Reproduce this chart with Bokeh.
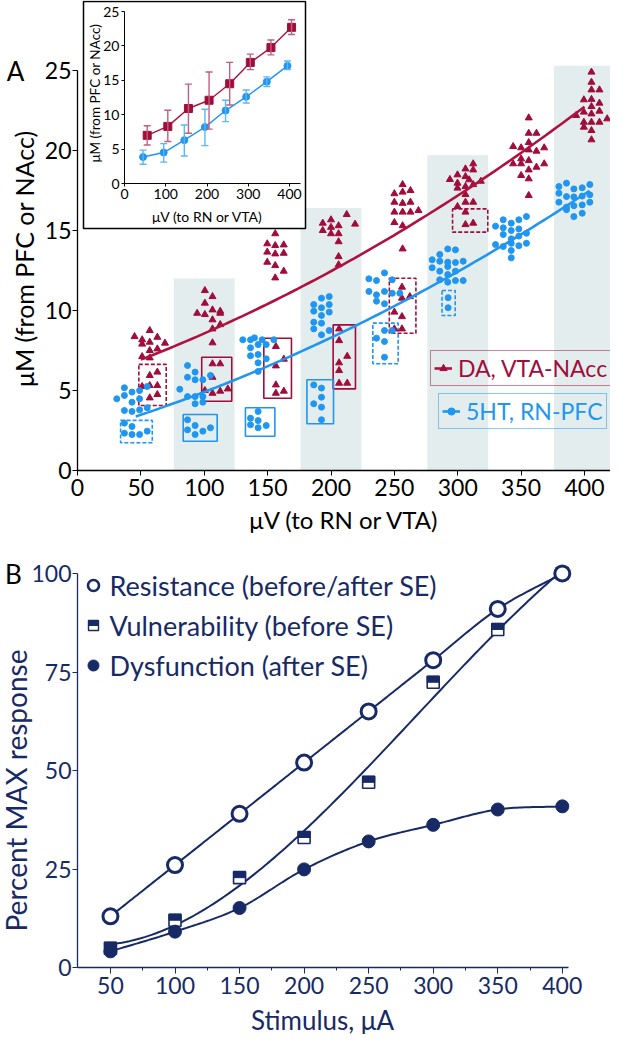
import numpy as np
from bokeh.plotting import figure
from bokeh.models import (Range1d, LinearAxis, FixedTicker, ColumnDataSource, Whisker,
                          TeeHead, Legend, LegendItem)
from bokeh.layouts import column
from bokeh.embed import file_html
from bokeh.resources import INLINE
from bokeh.core.properties import value

# ---------------- Panel A data ----------------
stim_ticks_a = [0, 50, 100, 150, 200, 250, 300, 350, 400]
conc_ticks_a = [0, 5, 10, 15, 20, 25]

band_center = [100, 200, 300, 400]
band_top = [12.0, 16.4, 19.7, 25.3]

da_x = [45, 51, 57, 63, 69, 51, 57, 63, 57, 51, 57,
        57, 63, 51, 57, 63, 57, 63,
        100.5, 106.5, 100.5, 94.4, 100.5, 106.5, 112.6, 112.6, 106.5, 112.6, 106.5, 106.5,
        106.5, 112.6, 106.5, 100.5, 106.5, 112.6, 118.6,
        156, 149.7, 156, 162.7, 149.7, 156, 162.7, 149.7, 156, 162.7, 156,
        156.5, 162.8, 156.5, 156.5, 156.5, 162.8,
        193.5, 200, 212.4, 200, 206, 219, 200, 206, 206, 206, 206, 193.5,
        206.4, 206.4, 212.8, 206.4, 206.4, 206.4, 212.8,
        256.5, 250, 256.5, 262.7, 250, 256.5, 262.7, 250, 256.5, 262.7, 269, 250, 256.5, 256.5,
        256, 256, 262.2, 250, 256, 250, 256,
        293.8, 299.8, 306.1, 312.2, 312.2, 306.1, 309, 299.8, 306.1, 312.2, 318.2, 299.8, 306.1,
        306.1, 312.2, 299.8, 306.1, 306.1, 312.2,
        356, 356, 362.1, 343.7, 350, 356, 356, 362.1, 368.2, 350, 350, 343.7, 356, 362.1, 368.2,
        356, 350, 356, 356,
        405.5, 405.5, 405.5, 411.8, 399.5, 405.5, 411.8, 405.5, 399.5, 405.5, 411.8, 393.4,
        399.5, 405.5, 411.8, 417.9, 399.5, 405.5, 405.5]
da_y = [8.37, 8.17, 8.75, 8.33, 7.96, 7.9, 8.02, 7.6, 7.5, 7.12, 7.04,
        5.94, 6.15, 5.25, 5.31, 5.31, 4.54, 4.75,
        11.25, 10.87, 10.46, 9.83, 9.75, 10.04, 9.96, 9.83, 9.42, 9.12, 8.85, 7.98,
        6.67, 6.67, 5.83, 5.0, 4.83, 4.96, 5.1,
        14.8, 14.17, 14.06, 14.1, 13.65, 13.54, 13.58, 13.02, 12.81, 12.46, 12.04,
        7.75, 6.96, 6.54, 5.35, 4.83, 4.96,
        15.46, 15.67, 16.0, 15.2, 15.3, 15.4, 14.8, 14.8, 14.3, 13.37, 12.86, 15.0,
        8.85, 8.12, 7.14, 6.73, 6.25, 5.46, 5.46,
        17.87, 17.3, 17.4, 17.5, 16.77, 16.7, 16.77, 16.15, 16.15, 16.15, 16.25, 15.5, 15.3, 13.85,
        11.46, 10.77, 10.87, 9.9, 9.62, 8.85, 8.85,
        18.19, 18.48, 18.85, 19.17, 18.79, 18.37, 18.17, 17.96, 17.75, 17.87, 18.08, 17.65, 17.25,
        16.77, 16.77, 16.5, 16.15, 15.37, 15.46,
        22.04, 21.08, 21.08, 20.25, 20.17, 20.5, 20.04, 19.96, 20.17, 19.48, 19.17, 19.17, 19.37,
        18.96, 19.17, 18.79, 18.44, 18.23, 17.19,
        24.9, 24.27, 23.79, 23.79, 23.17, 23.2, 22.96, 22.75, 22.4, 22.29, 22.46, 22.19,
        21.77, 21.77, 21.77, 21.98, 21.46, 21.25, 20.67]

ht_x = [37, 55, 31, 37, 43, 43, 49, 37, 43, 49, 55, 49,
        37, 43, 37, 43, 49, 55,
        86.8, 80.7, 86.8, 92.8, 92.8, 98.9, 104.9, 86.8, 92.8, 98.9, 92.8, 98.9,
        86.8, 92.8, 86.8, 92.8, 98.9, 104.9,
        130.4, 136.5, 139.6, 145.7, 154.9, 136.5, 142.5, 148.9, 136.5, 142.5, 148.9, 142.5, 142.5,
        136.5, 142.5, 136.5, 142.5, 142.5, 148.9,
        186.4, 192.5, 198.6, 186.4, 192.5, 198.6, 198.6, 192.5, 186.4, 192.5, 186.4, 198.6, 192.5,
        186.4, 192.5, 192.5, 186.4, 192.5, 192.5,
        229.9, 235.9, 242.2, 248.3, 229.9, 235.9, 242.2, 248.3, 254.3, 235.9, 242.2,
        242.2, 248.3, 235.9, 242.2, 242.2,
        279.8, 285.8, 292.1, 298.2, 285.8, 292.1, 298.2, 304.3, 279.8, 285.8, 292.1, 298.2,
        292.1, 285.8, 292.1, 298.2, 304.3,
        292.4, 292.4,
        329.8, 335.9, 342.2, 348.2, 354.2, 335.9, 342.2, 348.2, 335.9, 342.2, 348.2, 354.2,
        329.8, 335.9, 342.2, 348.2, 354.2, 342.2, 342.2,
        379.8, 385.8, 391.6, 398.2, 404.2, 379.8, 385.8, 391.6, 398.2, 404.2, 379.8, 385.8,
        391.6, 398.2, 404.2, 385.8, 391.6, 398.2]
ht_y = [5.17, 5.25, 4.48, 4.69, 4.9, 4.27, 4.48, 3.75, 3.69, 3.79, 3.92, 5.0,
        2.96, 2.75, 2.33, 2.25, 2.25, 2.46,
        6.56, 5.08, 5.83, 6.15, 5.67, 5.67, 5.94, 4.62, 4.62, 4.62, 4.17, 4.27,
        3.17, 2.81, 2.54, 2.25, 2.46, 2.67,
        8.17, 8.17, 8.29, 8.17, 8.17, 7.67, 7.87, 7.87, 7.17, 7.25, 6.98, 6.73, 6.19,
        3.27, 3.69, 2.86, 3.12, 2.67, 2.81,
        10.37, 10.77, 10.87, 9.96, 10.17, 10.37, 9.9, 9.69, 9.27, 9.21, 8.85, 8.75, 8.48,
        5.35, 5.15, 4.58, 4.17, 3.96, 3.17,
        11.98, 11.87, 12.35, 11.92, 11.19, 10.98, 11.19, 11.08, 11.08, 10.58, 10.42,
        8.75, 8.75, 8.27, 8.06, 7.08,
        13.17, 13.5, 13.85, 13.79, 13.08, 13.02, 13.0, 13.08, 12.67, 12.46, 12.75, 12.46,
        12.25, 11.92, 11.77, 11.87, 11.87,
        10.8, 10.17,
        15.27, 15.67, 15.46, 15.67, 15.87, 15.17, 15.0, 15.1, 14.75, 14.48, 14.65, 14.83,
        14.12, 14.0, 14.2, 14.05, 14.2, 13.75, 13.29,
        17.75, 17.96, 17.6, 17.67, 17.87, 17.33, 17.12, 17.1, 17.15, 17.23, 16.77, 16.46,
        16.55, 16.6, 16.77, 16.3, 15.87, 16.08]

# sub-group boxes
box_left = [48.4, 34.0, 98.0, 83.4, 147.0, 132.5, 201.7, 181.0, 246.0, 233.0, 295.9, 287.6]
box_right = [70.0, 59.0, 121.7, 110.2, 168.8, 155.7, 219.3, 202.0, 267.0, 253.0, 323.7, 298.0]
box_bottom = [4.06, 1.73, 4.33, 1.83, 4.52, 2.14, 5.10, 2.92, 8.58, 6.67, 14.90, 9.69]
box_top = [6.63, 3.13, 7.08, 3.50, 8.27, 3.92, 9.10, 5.67, 12.02, 9.21, 16.35, 11.25]
box_series = ["DA", "5HT"] * 6
box_dashed = [True, True, False, False, False, False, False, False, True, True, True, True]

# inset: means and ranges
inset_x = [50, 100, 150, 200, 250, 300, 350, 400]
da_mean = [7.0, 8.3, 10.9, 12.1, 14.5, 17.6, 19.75, 22.7]
da_low = [5.6, 6.1, 7.3, 7.9, 11.4, 16.55, 18.7, 21.65]
da_high = [8.4, 10.65, 14.45, 16.2, 17.6, 18.8, 20.85, 23.8]
ht_mean = [3.85, 4.5, 6.3, 8.2, 10.6, 12.6, 14.8, 17.1]
ht_low = [2.8, 3.1, 4.0, 5.5, 9.0, 11.7, 14.1, 16.55]
ht_high = [4.85, 5.8, 8.5, 10.8, 12.1, 13.6, 15.5, 17.8]
inset_xticks = [0, 100, 200, 300, 400]
inset_yticks = [0, 5, 10, 15, 20, 25]

# ---------------- Panel B data ----------------
stim_b = [50, 100, 150, 200, 250, 300, 350, 400]
resistance = [13.0, 26.0, 39.0, 52.0, 65.0, 78.0, 91.0, 100.0]
vulnerability = [4.9, 12.0, 22.8, 33.0, 47.0, 72.4, 85.8, 100.0]
dysfunction = [4.1, 9.1, 15.1, 24.9, 32.0, 36.2, 40.1, 40.9]
stim_ticks_b = [50, 100, 150, 200, 250, 300, 350, 400]
stim_minor_b = [75, 125, 175, 225, 275, 325, 375]
pct_ticks_b = [0, 25, 50, 75, 100]
legend_b = ["Resistance  (before/after SE)", "Vulnerability (before SE)", "Dysfunction  (after SE)"]

# ---------------- styling ----------------
FONT = "Lato"
RED = "#a00d3b"
RED_LINE = "#b0123f"
BLUE = "#2196f0"
NAVY = "#172a66"
BAND = "#e3eded"
RED_ERR = "#c0607c"
BLUE_ERR = "#5db6f4"


def catmull(xs, ys, n=24):
    P = np.column_stack([np.asarray(xs, float), np.asarray(ys, float)])
    P = np.vstack([2 * P[0] - P[1], P, 2 * P[-1] - P[-2]])
    t = np.linspace(0, 1, n, endpoint=False)[:, None]
    segs = []
    for i in range(1, len(P) - 2):
        p0, p1, p2, p3 = P[i - 1], P[i], P[i + 1], P[i + 2]
        segs.append(0.5 * (2 * p1 + (-p0 + p2) * t + (2 * p0 - 5 * p1 + 4 * p2 - p3) * t ** 2
                           + (-p0 + 3 * p1 - 3 * p2 + p3) * t ** 3))
    segs.append(P[-2][None, :])
    arr = np.vstack(segs)
    return arr[:, 0], arr[:, 1]


def style_axis(ax, color="black", size="23px"):
    ax.axis_line_color = color
    ax.major_tick_line_color = color
    ax.minor_tick_line_color = color
    ax.major_label_text_color = color
    ax.major_label_text_font = FONT
    ax.major_label_text_font_size = size
    ax.major_tick_in = 0
    ax.minor_tick_in = 0


def add_text(p, x, y, txt, size, color="black", angle=0.0, align="center", **kw):
    p.text(x=x, y=y, text=txt, angle=angle, text_font=value(FONT), text_font_size=size,
           text_color=color, text_align=align, text_baseline="middle", **kw)


# picture-pixel helpers (layout only)
def ax_(X): return (X - 77.0) / 1.2675
def ay_(Y): return (470.0 - Y) / 16.0
def ix_(X): return (X - 124.0) / 0.4125
def iy_(Y): return (183.0 - Y) / 6.88
B_Y0, B_PY = 967.0, 3.94
def bx_(X): return (X - 45.4) / 1.291
def by_(Y): return (B_Y0 - Y) / B_PY


W = 610
# ================= Panel A =================
A_TOP, A_BOT = 0.0, 536.0
pA = figure(width=W, height=int(A_BOT - A_TOP),
            x_range=Range1d(ax_(0), ax_(W)), y_range=Range1d(ay_(A_BOT), ay_(A_TOP)),
            x_axis_type=None, y_axis_type=None,
            output_backend="svg", toolbar_location=None,
            min_border_left=0, min_border_right=0, min_border_top=0, min_border_bottom=0)
pA.grid.visible = False
pA.outline_line_color = None

BAND_HALF = 24
pA.quad(left=[c - BAND_HALF for c in band_center], right=[c + BAND_HALF for c in band_center],
        bottom=0, top=band_top, fill_color=BAND, line_color=None)

for dashed in (False, True):
    idx = [i for i in range(len(box_left)) if box_dashed[i] == dashed]
    src = ColumnDataSource(dict(
        l=[box_left[i] for i in idx], r=[box_right[i] for i in idx],
        b=[box_bottom[i] for i in idx], t=[box_top[i] for i in idx],
        c=[RED if box_series[i] == "DA" else BLUE for i in idx]))
    pA.quad(left="l", right="r", bottom="b", top="t", source=src, fill_alpha=0,
            line_color="c", line_width=1.6, line_dash="4 2" if dashed else "solid")

da_sc = pA.scatter(da_x, da_y, marker="triangle", size=7, color=RED)
ht_sc = pA.scatter(ht_x, ht_y, marker="circle", size=6, color=BLUE)

cx = np.array(inset_x, float)
da_fit = np.polyfit(cx, da_mean, 2)
ht_fit = np.polyfit(cx, ht_mean, 2)
xr = np.linspace(50, 400, 80)
xb = np.linspace(46, 404, 80)
da_line = pA.line(xr, np.polyval(da_fit, xr), line_color=RED_LINE, line_width=2.6)
ht_line = pA.line(xb, np.polyval(ht_fit, xb), line_color=BLUE, line_width=2.6)

main_x = LinearAxis(fixed_location=0, bounds=(0, ax_(W)),
                    ticker=FixedTicker(ticks=stim_ticks_a, minor_ticks=[]))
main_y = LinearAxis(fixed_location=0, bounds=(0, 25),
                    ticker=FixedTicker(ticks=conc_ticks_a, minor_ticks=[]))
for ax in (main_x, main_y):
    style_axis(ax)
    ax.major_tick_out = 5
    ax.axis_line_width = 1.3
main_x.major_label_standoff = 3
main_y.major_label_standoff = 1
pA.add_layout(main_x, "below")
pA.add_layout(main_y, "left")

add_text(pA, [ax_(344)], [ay_(519)], ["μV (to RN or VTA)"], "24px")
add_text(pA, [ax_(23)], [ay_(255)], ["μM  (from PFC or NAcc)"], "25px", angle=np.pi / 2)
add_text(pA, [ax_(15)], [ay_(70)], ["A"], "26px")

# ---- inset (drawn inside the main frame through its own ranges) ----
pA.extra_x_ranges = {"ix": Range1d(ix_(0), ix_(W))}
pA.extra_y_ranges = {"iy": Range1d(iy_(A_BOT), iy_(A_TOP))}
pA.quad(left=[ix_(83)], right=[ix_(305)], bottom=[iy_(228)], top=[iy_(1)],
        x_range_name="ix", y_range_name="iy", fill_color="white", line_color="black", line_width=1.5)

DODGE = 5
da_ix = [v + DODGE for v in inset_x]
ht_ix = [v - DODGE for v in inset_x]
pA.line(da_ix, da_mean, x_range_name="ix", y_range_name="iy", line_color=RED_LINE, line_width=1.4)
pA.line(ht_ix, ht_mean, x_range_name="ix", y_range_name="iy", line_color=BLUE, line_width=1.4)
for xs, lo, hi, col in ((da_ix, da_low, da_high, RED_ERR), (ht_ix, ht_low, ht_high, BLUE_ERR)):
    wsrc = ColumnDataSource(dict(x=xs, lo=lo, hi=hi))
    w = Whisker(source=wsrc, base="x", lower="lo", upper="hi", dimension="height",
                x_range_name="ix", y_range_name="iy", line_color=col, line_width=1.4,
                upper_head=TeeHead(size=7, line_color=col, line_width=1.4),
                lower_head=TeeHead(size=7, line_color=col, line_width=1.4), level="annotation")
    pA.add_layout(w)
pA.scatter(da_ix, da_mean, x_range_name="ix", y_range_name="iy", marker="square", size=8, color=RED)
pA.scatter(ht_ix, ht_mean, x_range_name="ix", y_range_name="iy", marker="circle", size=7, color=BLUE)

ix_axis = LinearAxis(x_range_name="ix", y_range_name="iy", fixed_location=0, bounds=(0, ix_(300)),
                     ticker=FixedTicker(ticks=inset_xticks, minor_ticks=[]))
iy_axis = LinearAxis(x_range_name="ix", y_range_name="iy", fixed_location=0, bounds=(0, 25),
                     ticker=FixedTicker(ticks=inset_yticks, minor_ticks=[]))
for ax in (ix_axis, iy_axis):
    style_axis(ax, size="14px")
    ax.major_tick_out = 3
    ax.major_label_standoff = 2
pA.add_layout(ix_axis, "below")
pA.add_layout(iy_axis, "left")
add_text(pA, [ix_(207)], [iy_(216)], ["μV (to RN or VTA)"], "14px",
         x_range_name="ix", y_range_name="iy")
add_text(pA, [ix_(94)], [iy_(91)], ["μM  (from PFC or NAcc)"], "13.5px", angle=np.pi / 2,
         x_range_name="ix", y_range_name="iy")

# legends (each its own framed box); location measured from the frame's bottom-left
for lab, rends, col, (lx0, ly0) in (("DA, VTA-NAcc", [da_line, da_sc], RED, (430, 386)),
                                    ("5HT, RN-PFC", [ht_line, ht_sc], BLUE, (438, 429))):
    lg = Legend(items=[LegendItem(label=lab, renderers=rends)], location=(lx0, A_BOT - ly0),
                label_text_font=FONT, label_text_font_size="23px", label_text_color=col,
                border_line_color=col, border_line_width=1.6, background_fill_alpha=0,
                padding=3, margin=0, spacing=0, glyph_width=18, glyph_height=22, label_standoff=6)
    pA.add_layout(lg, "center")

# ================= Panel B =================
B_TOP, B_BOT = 536.0, 1034.0
pB = figure(width=W, height=int(B_BOT - B_TOP),
            x_range=Range1d(bx_(0), bx_(W)), y_range=Range1d(by_(B_BOT), by_(B_TOP)),
            x_axis_type=None, y_axis_type=None,
            output_backend="svg", toolbar_location=None,
            min_border_left=0, min_border_right=0, min_border_top=0, min_border_bottom=0)
pB.grid.visible = False
pB.outline_line_color = None

rx, ry = catmull(stim_b, resistance)
pB.line(rx, ry, line_color=NAVY, line_width=2)
vfit = np.polyfit(np.array(stim_b, float), vulnerability, 3)
vx = np.linspace(stim_b[0], stim_b[-1], 120)
pB.line(vx, np.polyval(vfit, vx), line_color=NAVY, line_width=2)
dx, dy = catmull(stim_b, dysfunction)
pB.line(dx, dy, line_color=NAVY, line_width=2)

HALF_OFF = 3.0 / B_PY
pB.scatter(stim_b, vulnerability, marker="square", size=12, fill_color="white", line_color=NAVY, line_width=1.6)
pB.rect(stim_b, [v + HALF_OFF for v in vulnerability], width=12, height=6,
        width_units="screen", height_units="screen", fill_color=NAVY, line_color=NAVY)
pB.scatter(stim_b, dysfunction, marker="circle", size=13, color=NAVY)
pB.scatter(stim_b, resistance, marker="circle", size=15, fill_color="white", line_color=NAVY, line_width=3)

# legend rows (marker + label)
lx, ltx = bx_(93), bx_(109)
ly = [by_(585), by_(625), by_(665)]
pB.scatter([lx], [ly[0]], marker="circle", size=11, fill_color="white", line_color=NAVY, line_width=2.6)
pB.scatter([lx], [ly[1]], marker="square", size=10, fill_color="white", line_color=NAVY, line_width=1.4)
pB.rect([lx], [ly[1] + 2.5 / B_PY], width=10, height=5, width_units="screen", height_units="screen",
        fill_color=NAVY, line_color=NAVY)
pB.scatter([lx], [ly[2]], marker="circle", size=11, color=NAVY)
add_text(pB, [ltx] * 3, ly, legend_b, "27px", color=NAVY, align="left")

b_x = LinearAxis(fixed_location=0, bounds=(bx_(77), bx_(568)),
                 ticker=FixedTicker(ticks=stim_ticks_b, minor_ticks=stim_minor_b))
b_y = LinearAxis(fixed_location=bx_(77), bounds=(0, 100),
                 ticker=FixedTicker(ticks=pct_ticks_b, minor_ticks=[]))
for ax in (b_x, b_y):
    style_axis(ax, NAVY)
    ax.axis_line_width = 1.3
b_x.major_tick_out = 6
b_x.minor_tick_out = 3
b_y.major_tick_out = 5
b_x.major_label_standoff = 3
b_y.major_label_standoff = 1
pB.add_layout(b_x, "below")
pB.add_layout(b_y, "left")

add_text(pB, [bx_(322)], [by_(1019)], ["Stimulus, μA"], "26px", color=NAVY)
add_text(pB, [bx_(15)], [by_(790)], ["Percent MAX response"], "28px", color=NAVY, angle=np.pi / 2)
add_text(pB, [bx_(13)], [by_(573)], ["B"], "26px")

layout = column(pA, pB, spacing=0)
open("out.html", "w").write(file_html(layout, INLINE))
